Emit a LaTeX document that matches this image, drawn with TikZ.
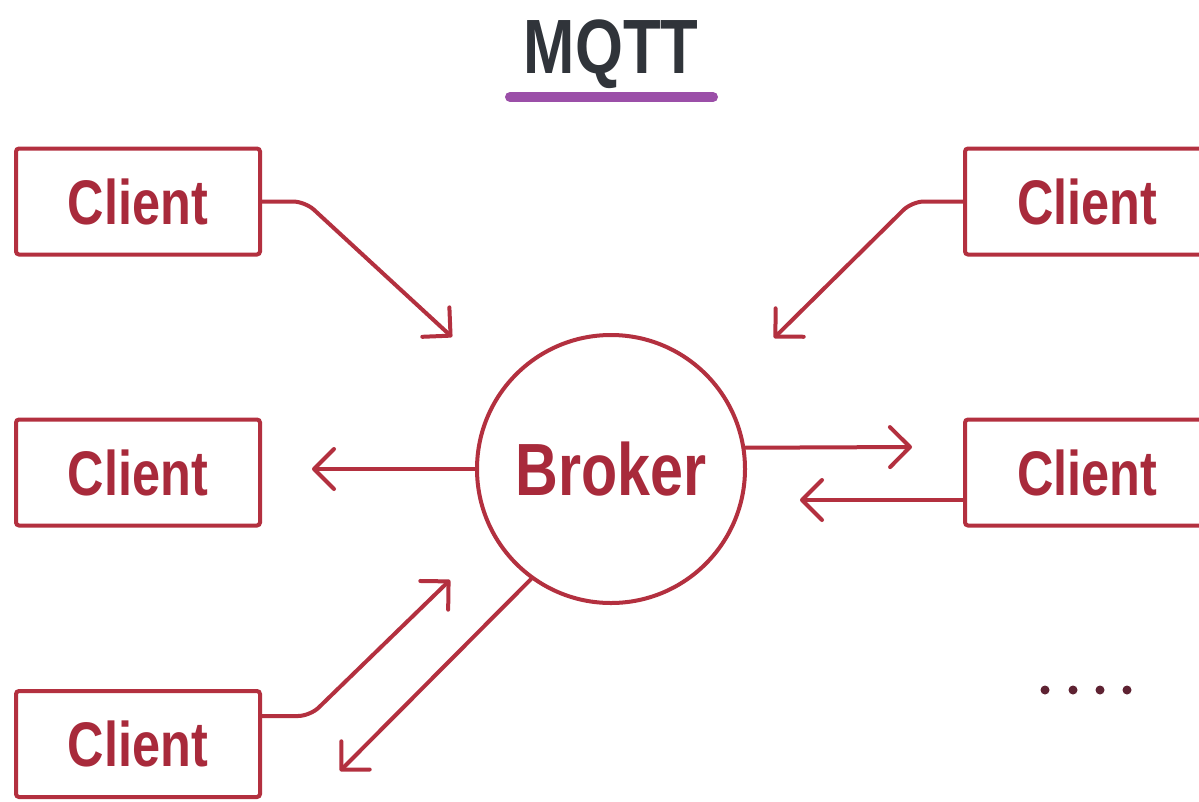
\documentclass[tikz,border=0pt]{standalone}
\usepackage{fontspec}
\setmainfont{Liberation Sans}
\newfontfamily\narrowsans{Liberation Sans}[FakeStretch=0.8]
\usetikzlibrary{arrows.meta}
\definecolor{linkred}{HTML}{B3303F}
\definecolor{textred}{HTML}{A82A3B}
\definecolor{titlegray}{HTML}{30343A}
\definecolor{barpurple}{HTML}{9B4FA8}
\definecolor{dotred}{HTML}{5E2232}
\begin{document}
\begin{tikzpicture}[x=1pt,y=-1pt,
  clientbox/.style={draw=linkred, line width=4pt, rounded corners=3pt,
    minimum width=244pt, minimum height=106pt, inner sep=0pt, text=textred,
    font=\narrowsans\bfseries\fontsize{63}{70}\selectfont},
  brokernode/.style={circle, draw=linkred, line width=4pt, minimum size=268pt,
    inner sep=0pt, text=textred, font=\narrowsans\bfseries\fontsize{74}{80}\selectfont},
  titlenode/.style={text=titlegray, inner sep=0pt,
    font=\narrowsans\bfseries\fontsize{77}{84}\selectfont},
  flow/.style={draw=linkred, line width=4pt, line cap=round, line join=round,
    rounded corners=12pt,
    -{Straight Barb[length=20pt,width=40pt,line cap=round,line join=round]}}]

\fill[white] (0,0) rectangle (1199,801);
\clip (0,0) rectangle (1199,801);

% title with its underline
\node[titlenode, anchor=base] (title) at (611,73) {MQTT};
\draw[barpurple, line width=10pt, line cap=round] (510,97) -- (713,97);

% clients and the broker
\node[clientbox] (lc1) at (138,201.5) {Client};
\node[clientbox] (lc2) at (138,472.5) {Client};
\node[clientbox] (lc3) at (138,744) {Client};
\node[clientbox] (rc1) at (1087,201.5) {Client};
\node[clientbox] (rc2) at (1087,472.5) {Client};
\node[brokernode] (broker) at (611,469) {Broker};

% bends and free ends of the connectors
\coordinate (k1) at (305,201.5);
\coordinate (t1) at (452,337);
\coordinate (k2) at (912,201.5);
\coordinate (t2) at (774,338);
\coordinate (t3) at (312,469);
\coordinate (t4) at (912,447);
\coordinate (t5) at (800,500);
\coordinate (k6) at (310,716);
\coordinate (t6) at (450,580);
\coordinate (t7) at (340,771);

% connectors
\draw[flow] (lc1.east) -- (k1) -- (t1);
\draw[flow] (rc1.west) -- (k2) -- (t2);
\draw[flow] (broker.west) -- (t3);
\draw[flow] (broker.9.4) -- (t4);
\draw[flow] (rc2.west |- t5) -- (t5);
\draw[flow] (lc3.east |- k6) -- (k6) -- (t6);
\draw[flow] (broker.-126) -- (t7);

% ellipsis for further clients
\foreach \dx in {1045,1073,1100,1127}
  \fill[dotred] (\dx,690) circle (4.5pt);
\end{tikzpicture}
\end{document}
